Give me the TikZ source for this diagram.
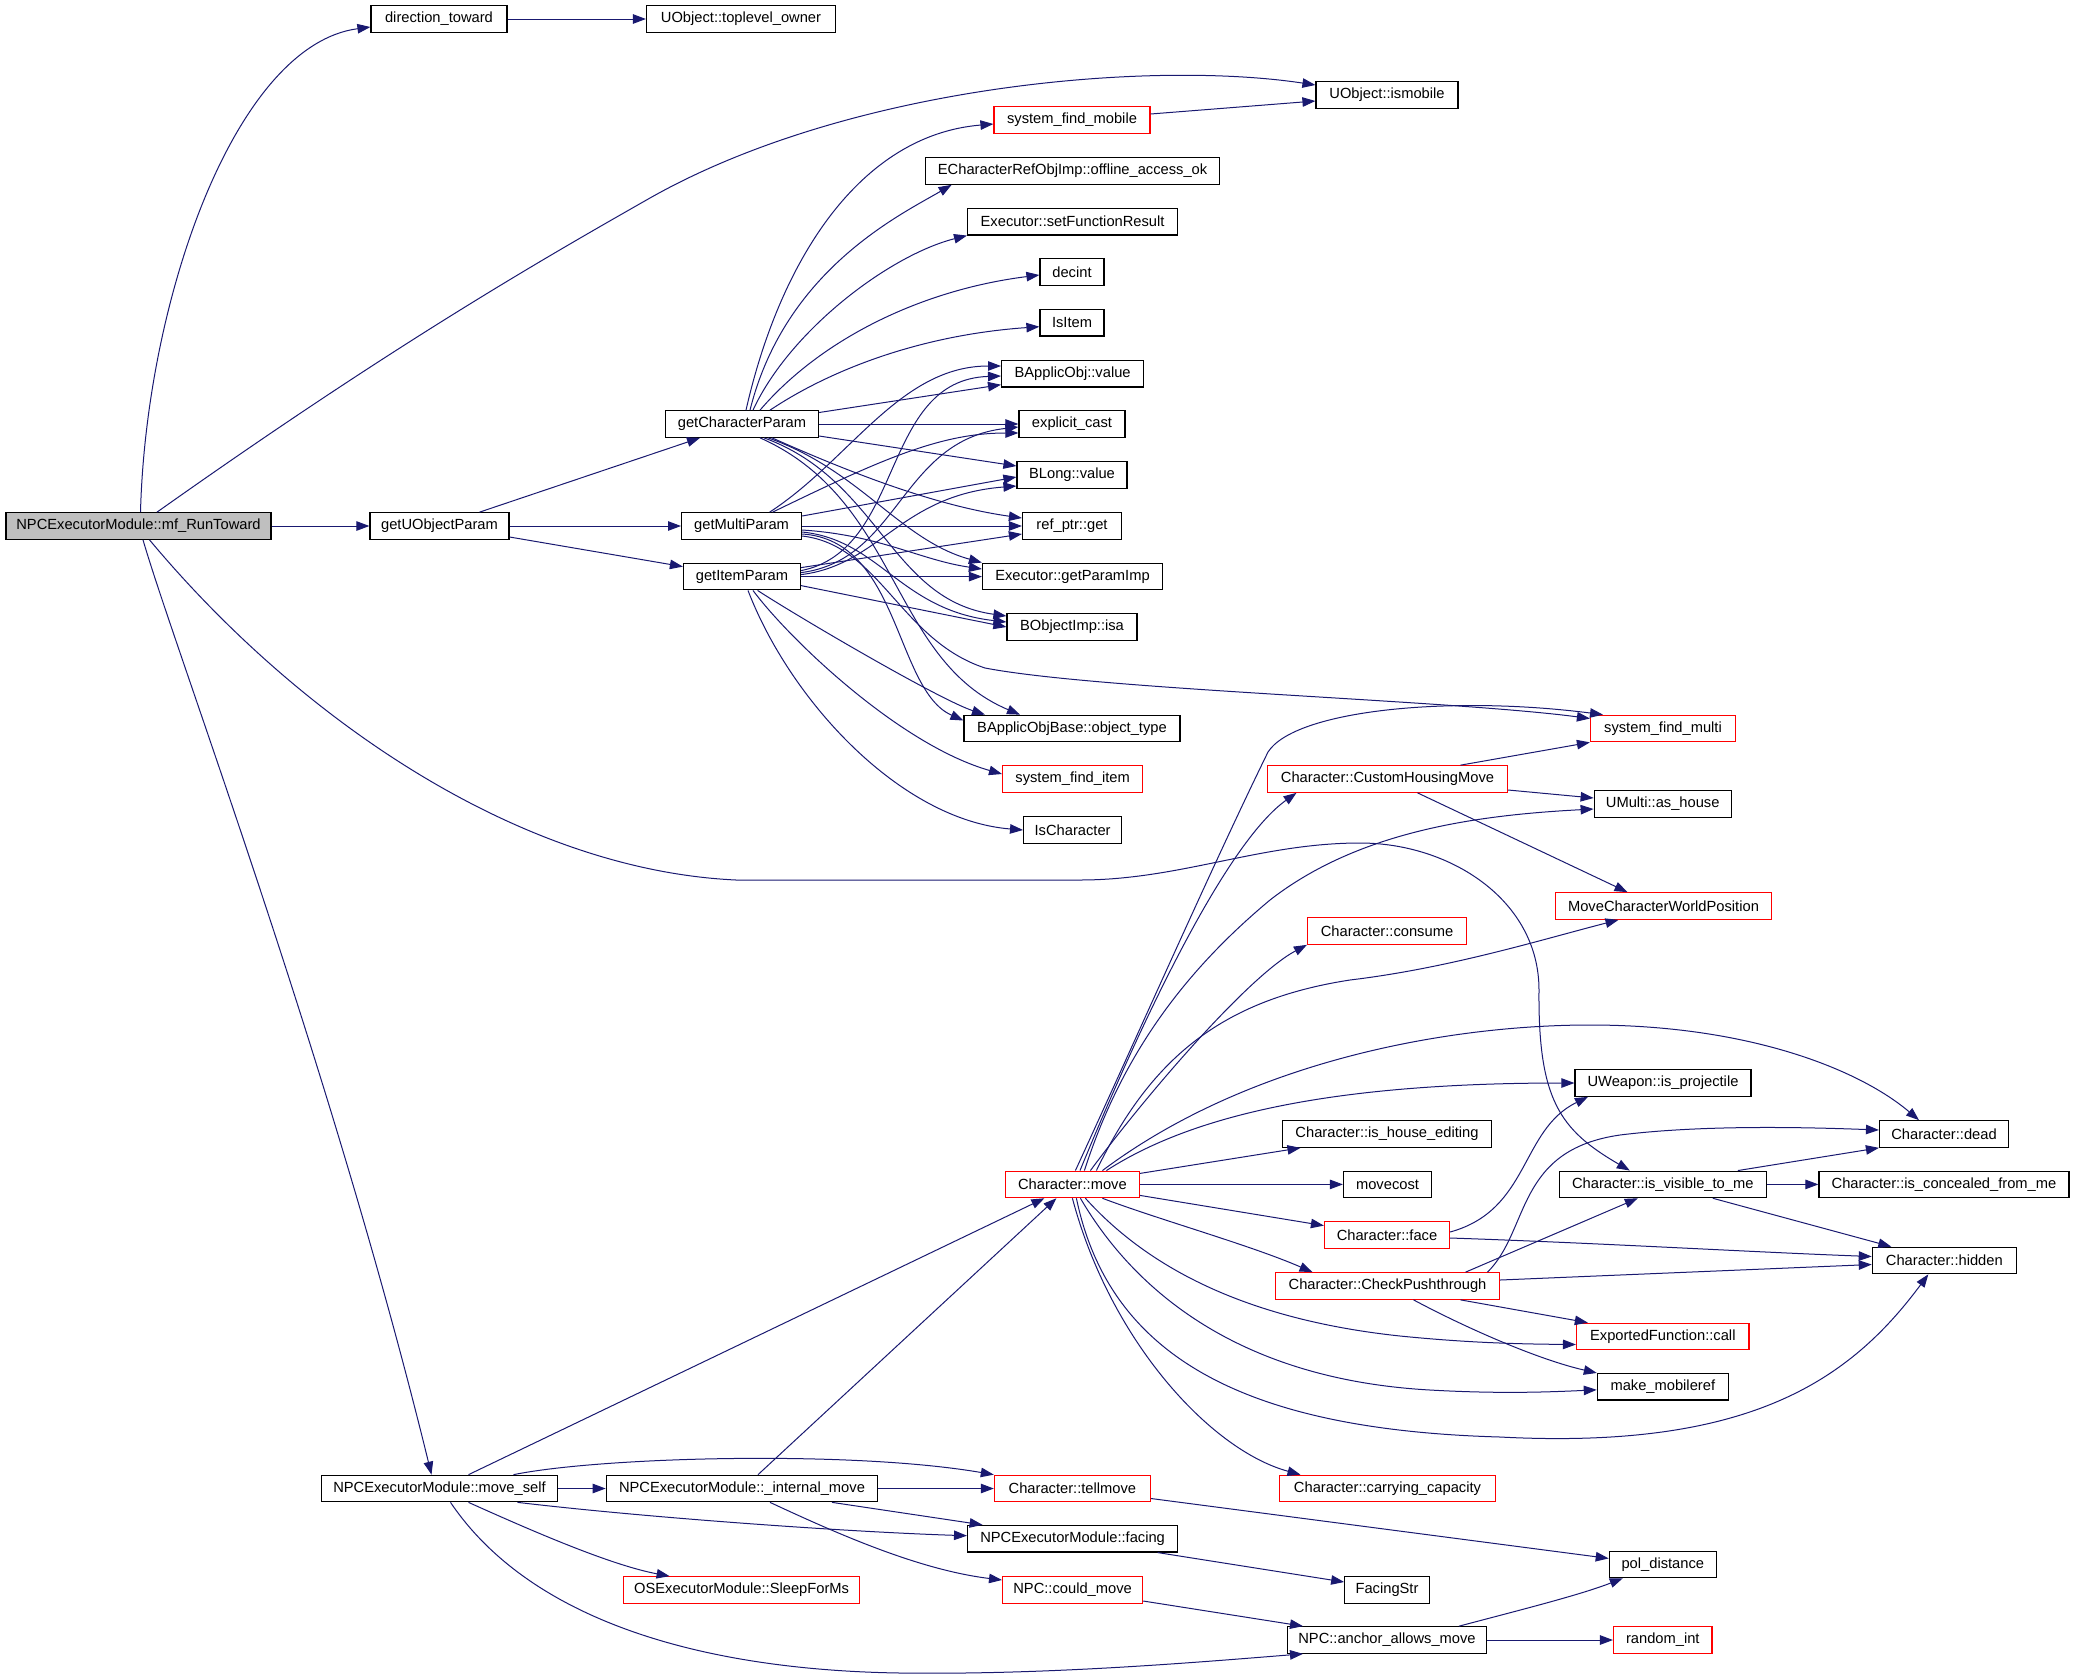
\documentclass[tikz,border=0pt]{standalone}
\usepackage{fontspec}
\setmainfont{Liberation Sans}
\usetikzlibrary{arrows.meta}
\definecolor{edgec}{HTML}{191970}
\definecolor{grayfill}{HTML}{BFBFBF}
\definecolor{redb}{HTML}{FF0000}
\begin{document}
\begin{tikzpicture}[x=1pt,y=-1pt,
  nb/.style={draw=black, line width=1.2pt, minimum height=26.5pt, inner xsep=0pt, inner ysep=0pt, font=\fontsize{14.7}{17}\selectfont},
  nr/.style={nb, draw=redb},
  e/.style={draw=edgec, line width=1pt, -{Triangle[length=13pt,width=9.5pt]}}]
\useasboundingbox (0,0) rectangle (2075,1679);
% nodes
\node[nb, minimum width=265pt, fill=grayfill] (mf) at (138.5,526) {NPCExecutorModule::mf\_RunToward};
\node[nb, minimum width=136pt] (dt) at (439,19) {direction\_toward};
\node[nb, minimum width=189pt] (tlo) at (741,19) {UObject::toplevel\_owner};
\node[nb, minimum width=142pt] (ism) at (1387,95) {UObject::ismobile};
\node[nb, minimum width=139pt] (guop) at (439.5,526) {getUObjectParam};
\node[nb, minimum width=153pt] (gcp) at (742,424) {getCharacterParam};
\node[nb, minimum width=120pt] (gmp) at (741.6,526) {getMultiParam};
\node[nb, minimum width=117pt] (gip) at (742,576.6) {getItemParam};
\node[nr, minimum width=156pt] (sfm) at (1072,120) {system\_find\_mobile};
\node[nb, minimum width=294pt] (eco) at (1072.6,171) {ECharacterRefObjImp::offline\_access\_ok};
\node[nb, minimum width=210pt] (sfr) at (1072.6,221.7) {Executor::setFunctionResult};
\node[nb, minimum width=64pt] (dec) at (1072,272) {decint};
\node[nb, minimum width=64pt] (isi) at (1072,322.7) {IsItem};
\node[nb, minimum width=142pt] (bav) at (1072.6,373.7) {BApplicObj::value};
\node[nb, minimum width=106pt] (ec) at (1072,424) {explicit\_cast};
\node[nb, minimum width=110pt] (blv) at (1072,475) {BLong::value};
\node[nb, minimum width=99pt] (rpg) at (1072,526) {ref\_ptr::get};
\node[nb, minimum width=180pt] (gpi) at (1072.5,576.6) {Executor::getParamImp};
\node[nb, minimum width=130pt] (isa) at (1072,627) {BObjectImp::isa};
\node[nb, minimum width=216pt] (bot) at (1072,728.5) {BApplicObjBase::object\_type};
\node[nr, minimum width=140pt] (sfi) at (1072.6,779) {system\_find\_item};
\node[nb, minimum width=98pt] (isc) at (1072.6,830) {IsCharacter};
\node[nr, minimum width=145pt] (sfmu) at (1663,728.5) {system\_find\_multi};
\node[nr, minimum width=240pt] (chm) at (1387.5,779) {Character::CustomHousingMove};
\node[nb, minimum width=137pt] (umh) at (1662.7,804) {UMulti::as\_house};
\node[nr, minimum width=216pt] (mcw) at (1663.5,906) {MoveCharacterWorldPosition};
\node[nr, minimum width=159pt] (cons) at (1387,931) {Character::consume};
\node[nb, minimum width=176pt] (uwp) at (1663,1083) {UWeapon::is\_projectile};
\node[nb, minimum width=129pt] (dead) at (1944,1134) {Character::dead};
\node[nb, minimum width=209pt] (ihe) at (1387,1134) {Character::is\_house\_editing};
\node[nr, minimum width=134pt] (cmv) at (1072.4,1184.4) {Character::move};
\node[nb, minimum width=88pt] (mvc) at (1387.5,1184.4) {movecost};
\node[nb, minimum width=207pt] (ivm) at (1662.8,1184.4) {Character::is\_visible\_to\_me};
\node[nb, minimum width=250pt] (icm) at (1944,1184.4) {Character::is\_concealed\_from\_me};
\node[nr, minimum width=125pt] (face) at (1387,1235) {Character::face};
\node[nb, minimum width=144pt] (hid) at (1944.3,1260.5) {Character::hidden};
\node[nr, minimum width=224pt] (cpt) at (1387.5,1286) {Character::CheckPushthrough};
\node[nr, minimum width=172.5pt] (efc) at (1662.8,1336.5) {ExportedFunction::call};
\node[nb, minimum width=131pt] (mmr) at (1662.8,1386.8) {make\_mobileref};
\node[nb, minimum width=236pt] (ms) at (439.5,1488.5) {NPCExecutorModule::move\_self};
\node[nb, minimum width=271.5pt] (im) at (742,1488.5) {NPCExecutorModule::\_internal\_move};
\node[nr, minimum width=156pt] (ctm) at (1072.4,1488.5) {Character::tellmove};
\node[nr, minimum width=216pt] (ccap) at (1387.5,1488.5) {Character::carrying\_capacity};
\node[nb, minimum width=210pt] (fac) at (1072.6,1538.7) {NPCExecutorModule::facing};
\node[nb, minimum width=107pt] (pol) at (1662.8,1564.4) {pol\_distance};
\node[nr, minimum width=236pt] (slp) at (741.6,1590) {OSExecutorModule::SleepForMs};
\node[nr, minimum width=140pt] (cdm) at (1072.6,1590) {NPC::could\_move};
\node[nb, minimum width=84.5pt] (fst) at (1387,1590) {FacingStr};
\node[nb, minimum width=199pt] (aam) at (1387,1640) {NPC::anchor\_allows\_move};
\node[nr, minimum width=98.5pt] (rnd) at (1662.8,1640) {random\_int};
% edges from mf_RunToward
\draw[e] ([xshift=2pt]mf.north) .. controls (146,300) and (235,45) .. ([yshift=-8pt]dt.west);
\draw[e] ([xshift=18.5pt]mf.north) .. controls (400,340) and (550,255) .. (650,198) .. controls (850,85) and (1150,60) .. ([yshift=10pt]ism.west);
\draw[e] (mf) -- (guop);
\draw[e] ([xshift=11pt]mf.south) .. controls (300,720) and (520,870) .. (736,880) -- (1080,880) .. controls (1180,880) and (1260,843) .. (1360,843) .. controls (1450,843) and (1539,900) .. (1539,990) .. controls (1538,1100) and (1560,1130) .. ([xshift=-33pt]ivm.north);
\draw[e] ([xshift=4.5pt]mf.south) .. controls (175,650) and (330,1060) .. ([xshift=-8pt]ms.north);
% direction_toward, system_find_mobile
\draw[e] (dt) -- (tlo);
\draw[e] ([yshift=6pt]sfm.east) -- ([yshift=-6pt]ism.west);
% getUObjectParam
\draw[e] ([xshift=40pt]guop.north) -- ([xshift=-42pt]gcp.south);
\draw[e] (guop) -- (gmp);
\draw[e] ([yshift=-11pt]guop.east) -- ([yshift=10pt]gip.west);
% getCharacterParam
\draw[e] ([xshift=4pt]gcp.north) .. controls (780,260) and (860,135) .. ([yshift=-4pt]sfm.west);
\draw[e] ([xshift=8pt]gcp.north) .. controls (785,270) and (900,215) .. ([xshift=-121pt]eco.south);
\draw[e] ([xshift=11pt]gcp.north) .. controls (790,330) and (890,255) .. (sfr.south west);
\draw[e] ([xshift=18pt]gcp.north) .. controls (820,340) and (920,290) .. ([yshift=-3pt]dec.west);
\draw[e] ([xshift=28pt]gcp.north) .. controls (830,370) and (920,335) .. ([yshift=-4pt]isi.west);
\draw[e] ([yshift=11.5pt]gcp.east) -- ([yshift=-11pt]bav.west);
\draw[e] (gcp) -- (ec);
\draw[e] ([yshift=-12pt]gcp.east) -- ([yshift=9pt]blv.west);
\draw[e] ([xshift=30pt]gcp.south) .. controls (840,468) and (930,505) .. ([yshift=8pt]rpg.west);
\draw[e] ([xshift=26pt]gcp.south) .. controls (860,470) and (900,540) .. ([yshift=14pt]gpi.west);
\draw[e] ([xshift=22pt]gcp.south) .. controls (880,480) and (890,600) .. ([yshift=11pt]isa.west);
\draw[e] ([xshift=18pt]gcp.south) .. controls (900,500) and (890,660) .. ([xshift=-52pt]bot.north);
% getMultiParam
\draw[e] ([xshift=28pt]gmp.north) .. controls (850,460) and (900,366) .. ([yshift=7.7pt]bav.west);
\draw[e] ([xshift=31pt]gmp.north) .. controls (880,460) and (940,433) .. ([yshift=-9pt]ec.west);
\draw[e] ([yshift=10pt]gmp.east) -- ([yshift=-2pt]blv.west);
\draw[e] (gmp) -- (rpg);
\draw[e] ([yshift=-4pt]gmp.east) .. controls (880,535) and (920,560) .. ([yshift=7.6pt]gpi.west);
\draw[e] ([yshift=-6pt]gmp.east) .. controls (880,540) and (900,610) .. ([yshift=5pt]isa.west);
\draw[e] ([yshift=-8pt]gmp.east) .. controls (900,540) and (895,690) .. ([yshift=8pt]bot.west);
\draw[e] ([yshift=-10pt]gmp.east) .. controls (880,545) and (900,640) .. (985,668) .. controls (1100,690) and (1450,700) .. ([yshift=10pt]sfmu.west);
% getItemParam
\draw[e] ([yshift=6pt]gip.east) .. controls (905,550) and (880,380) .. ([yshift=-2.3pt]bav.west);
\draw[e] ([yshift=4pt]gip.east) .. controls (900,560) and (900,440) .. ([yshift=-3pt]ec.west);
\draw[e] ([yshift=2pt]gip.east) .. controls (880,565) and (900,495) .. ([yshift=-11pt]blv.west);
\draw[e] ([yshift=9pt]gip.east) -- ([yshift=-8pt]rpg.west);
\draw[e] (gip) -- (gpi);
\draw[e] ([yshift=-9pt]gip.east) -- (isa.west);
\draw[e] ([xshift=15.6pt]gip.south) .. controls (800,618) and (940,700) .. ([xshift=-87pt]bot.north);
\draw[e] ([xshift=11pt]gip.south) .. controls (790,640) and (900,745) .. ([yshift=5pt]sfi.west);
\draw[e] ([xshift=6pt]gip.south) .. controls (790,700) and (900,820) .. (isc.west);
% CustomHousingMove
\draw[e] ([xshift=73pt]chm.north) -- (sfmu.south west);
\draw[e] ([yshift=-11pt]chm.east) -- ([yshift=6pt]umh.west);
\draw[e] ([xshift=30pt]chm.south) -- ([xshift=-36pt]mcw.north);
% Character::move
\draw[e] ([xshift=3pt]cmv.north) .. controls (1140,1030) and (1215,860) .. (1268,752) .. controls (1295,710) and (1450,695) .. ([xshift=-60pt]sfmu.north);
\draw[e] ([xshift=7.6pt]cmv.north) .. controls (1150,1000) and (1230,840) .. ([xshift=-91pt]chm.south);
\draw[e] ([xshift=12pt]cmv.north) .. controls (1120,1060) and (1180,975) .. (1270,900) .. controls (1360,830) and (1480,815) .. ([yshift=-5pt]umh.west);
\draw[e] ([xshift=18pt]cmv.north) .. controls (1150,1090) and (1250,975) .. (cons.south west);
\draw[e] ([xshift=24pt]cmv.north) .. controls (1150,1060) and (1220,1000) .. (1350,980) .. controls (1450,968) and (1540,940) .. ([xshift=-45pt]mcw.south);
\draw[e] ([xshift=30pt]cmv.north) .. controls (1250,1060) and (1450,1025) .. (1590,1025) .. controls (1750,1025) and (1860,1070) .. ([xshift=-25pt]dead.north);
\draw[e] ([xshift=34pt]cmv.north) .. controls (1200,1110) and (1350,1083) .. (uwp.west);
\draw[e] ([yshift=11pt]cmv.east) -- ([xshift=-86.5pt]ihe.south);
\draw[e] (cmv) -- (mvc);
\draw[e] ([yshift=-11pt]cmv.east) -- ([yshift=9.4pt]face.west);
\draw[e] ([xshift=30pt]cmv.south) .. controls (1160,1220) and (1250,1245) .. ([xshift=-75pt]cpt.north);
\draw[e] ([xshift=13pt]cmv.south) .. controls (1150,1270) and (1250,1320) .. (1400,1336) .. controls (1470,1343) and (1520,1344) .. ([yshift=-8pt]efc.west);
\draw[e] ([xshift=8pt]cmv.south) .. controls (1140,1300) and (1250,1380) .. (1430,1390) .. controls (1500,1394) and (1550,1392) .. ([yshift=-3pt]mmr.west);
\draw[e] ([xshift=4pt]cmv.south) .. controls (1110,1360) and (1250,1430) .. (1500,1437) .. controls (1750,1450) and (1850,1380) .. ([xshift=-16pt]hid.south);
\draw[e] (cmv.south) .. controls (1110,1340) and (1210,1450) .. ([xshift=-87pt]ccap.north);
% Character::face
\draw[e] ([yshift=3pt]face.east) .. controls (1530,1210) and (1520,1130) .. ([xshift=-75pt]uwp.south);
\draw[e] ([yshift=-3pt]face.east) .. controls (1600,1243) and (1750,1252) .. ([yshift=4pt]hid.west);
% CheckPushthrough
\draw[e] ([xshift=100pt]cpt.north) .. controls (1530,1230) and (1515,1150) .. (1620,1135) .. controls (1700,1125) and (1800,1127) .. ([yshift=4pt]dead.west);
\draw[e] ([xshift=78pt]cpt.north) -- ([xshift=-25pt]ivm.south);
\draw[e] ([yshift=6pt]cpt.east) -- ([yshift=-4pt]hid.west);
\draw[e] ([xshift=73pt]cpt.south) -- ([xshift=-75pt]efc.north);
\draw[e] ([xshift=26pt]cpt.south) .. controls (1470,1330) and (1540,1360) .. ([xshift=-66pt]mmr.north);
% is_visible_to_me
\draw[e] ([xshift=75pt]ivm.north) -- (dead.south west);
\draw[e] (ivm) -- (icm);
\draw[e] ([xshift=50pt]ivm.south) -- ([xshift=-53pt]hid.north);
% move_self
\draw[e] ([xshift=29pt]ms.north) -- ([xshift=-28pt]cmv.south);
\draw[e] (ms) -- (im);
\draw[e] ([xshift=74pt]ms.north) .. controls (600,1457) and (850,1450) .. (ctm.north west);
\draw[e] ([xshift=78pt]ms.south) .. controls (650,1518) and (850,1532) .. ([yshift=3pt]fac.west);
\draw[e] ([xshift=29pt]ms.south) .. controls (530,1530) and (610,1565) .. ([xshift=-72pt]slp.north);
\draw[e] ([xshift=11pt]ms.south) .. controls (530,1620) and (700,1670) .. (900,1673) .. controls (1050,1675) and (1200,1662) .. ([xshift=-84pt]aam.south);
% _internal_move
\draw[e] ([xshift=16pt]im.north) -- ([xshift=-16pt]cmv.south);
\draw[e] (im) -- (ctm);
\draw[e] ([xshift=90pt]im.south) -- ([xshift=-90pt]fac.north);
\draw[e] ([xshift=28pt]im.south) .. controls (840,1535) and (920,1570) .. ([yshift=10pt]cdm.west);
% remaining
\draw[e] ([yshift=-10pt]ctm.east) -- ([yshift=6pt]pol.west);
\draw[e] ([xshift=85pt]fac.south) -- ([yshift=8pt]fst.west);
\draw[e] ([yshift=-11pt]cdm.east) -- ([xshift=-84pt]aam.north);
\draw[e] ([xshift=72pt]aam.north) .. controls (1520,1610) and (1580,1595) .. ([xshift=-40pt]pol.south);
\draw[e] (aam) -- (rnd);
\end{tikzpicture}
\end{document}
